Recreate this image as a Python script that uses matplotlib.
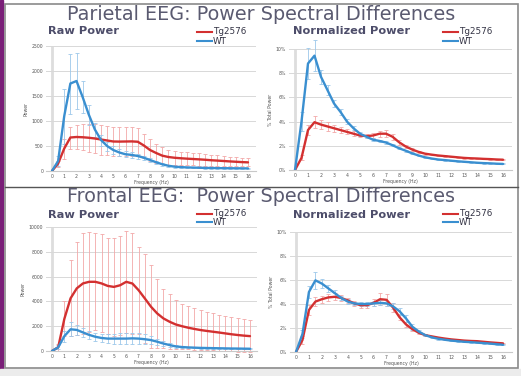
import numpy as np
import matplotlib
matplotlib.use("Agg")
import matplotlib.pyplot as plt
from matplotlib.patches import Rectangle
from matplotlib.lines import Line2D

plt.rcParams['font.family'] = ['DejaVu Sans']

W, H = 521, 376

freq = np.arange(0, 16.01, 0.5)
xtick_labels = [str(i) for i in range(17)]

# ---------------- Parietal raw power ----------------
par_raw_tg = [0, 150, 450, 670, 680, 675, 665, 650, 630, 610, 590, 588, 590, 592, 585, 510,
              420, 360, 307, 280, 265, 255, 247, 240, 233, 225, 215, 208, 200, 192, 185, 178, 173]
par_raw_tg_err = [0, 60, 200, 220, 240, 260, 285, 290, 300, 295, 295, 295, 290, 285, 270, 240,
                  215, 190, 175, 150, 140, 135, 130, 127, 125, 118, 112, 105, 100, 95, 90, 85, 80]
par_raw_wt = [0, 200, 1100, 1750, 1800, 1480, 1130, 830, 620, 500, 420, 370, 335, 322, 300, 265,
              220, 175, 135, 105, 87, 78, 72, 68, 65, 62, 60, 58, 56, 55, 54, 53, 52]
par_raw_wt_err = [0, 100, 550, 600, 560, 320, 200, 140, 110, 90, 75, 65, 60, 55, 50, 45,
                  40, 35, 30, 25, 20, 18, 16, 15, 14, 13, 12, 12, 11, 11, 10, 10, 10]

# ---------------- Parietal normalized power (%) ----------------
par_norm_tg = [0, 1.0, 3.3, 3.95, 3.75, 3.6, 3.45, 3.3, 3.15, 3.0, 2.85, 2.8, 2.85, 3.0, 3.0, 2.75,
               2.3, 1.95, 1.7, 1.5, 1.35, 1.27, 1.2, 1.15, 1.1, 1.05, 1.0, 0.97, 0.95, 0.92, 0.9, 0.87, 0.85]
par_norm_tg_err = [0, 0.2, 0.4, 0.5, 0.4, 0.35, 0.3, 0.25, 0.2, 0.2, 0.15, 0.15, 0.2, 0.25, 0.3, 0.25,
                   0.2, 0.15, 0.1, 0.1, 0.08, 0.07, 0.06, 0.05, 0.05, 0.05, 0.05, 0.05, 0.05, 0.05, 0.05, 0.05, 0.05]
par_norm_wt = [0, 4.0, 8.8, 9.45, 7.7, 6.6, 5.5, 4.8, 4.0, 3.45, 3.0, 2.75, 2.5, 2.4, 2.27, 2.05,
               1.8, 1.6, 1.38, 1.2, 1.05, 0.95, 0.87, 0.82, 0.77, 0.72, 0.68, 0.64, 0.6, 0.57, 0.55, 0.52, 0.5]
par_norm_wt_err = [0, 0.8, 1.3, 1.3, 0.6, 0.4, 0.3, 0.25, 0.2, 0.15, 0.15, 0.12, 0.12, 0.12, 0.12, 0.1,
                   0.1, 0.08, 0.07, 0.06, 0.05, 0.05, 0.04, 0.04, 0.04, 0.04, 0.04, 0.04, 0.04, 0.04, 0.04, 0.04, 0.04]

# ---------------- Frontal raw power ----------------
fro_raw_tg = [0, 300, 2600, 4250, 5050, 5450, 5580, 5580, 5450, 5250, 5170, 5300, 5580, 5440, 4900, 4240,
              3570, 3030, 2630, 2360, 2140, 2000, 1880, 1780, 1690, 1620, 1555, 1490, 1420, 1350, 1290, 1240, 1200]
fro_raw_tg_err = [0, 300, 1400, 3050, 3750, 4050, 4020, 3900, 3950, 3850, 3930, 4000, 4120, 4060, 3500, 3610,
                  3330, 2810, 2410, 2200, 1990, 1830, 1720, 1670, 1610, 1550, 1470, 1450, 1400, 1380, 1340, 1320, 1300]
fro_raw_wt = [0, 300, 1200, 1750, 1700, 1500, 1300, 1150, 1050, 1000, 1000, 1000, 1000, 1020, 1000, 950,
              880, 750, 600, 480, 370, 320, 290, 270, 250, 240, 230, 220, 210, 200, 195, 188, 180]
fro_raw_wt_err = [0, 150, 450, 550, 400, 350, 320, 330, 350, 380, 400, 420, 430, 450, 450, 400,
                  330, 250, 180, 130, 100, 80, 70, 65, 60, 55, 50, 50, 45, 45, 40, 40, 40]

# ---------------- Frontal normalized power (%) ----------------
fro_norm_tg = [0, 1.0, 3.5, 4.2, 4.4, 4.55, 4.6, 4.5, 4.3, 4.05, 3.9, 3.9, 4.1, 4.4, 4.35, 3.7,
               2.9, 2.3, 1.9, 1.6, 1.4, 1.3, 1.2, 1.12, 1.05, 1.0, 0.95, 0.92, 0.9, 0.85, 0.8, 0.76, 0.72]
fro_norm_tg_err = [0, 0.3, 0.4, 0.35, 0.3, 0.3, 0.3, 0.25, 0.2, 0.2, 0.2, 0.2, 0.3, 0.5, 0.5, 0.35,
                   0.25, 0.2, 0.15, 0.1, 0.08, 0.07, 0.06, 0.05, 0.05, 0.05, 0.05, 0.05, 0.05, 0.05, 0.05, 0.05, 0.05]
fro_norm_wt = [0, 1.5, 5.0, 5.97, 5.7, 5.3, 4.9, 4.5, 4.2, 4.05, 4.0, 4.0, 4.05, 4.1, 4.05, 3.8,
               3.4, 2.8, 2.1, 1.7, 1.4, 1.22, 1.1, 1.02, 0.95, 0.9, 0.85, 0.82, 0.78, 0.74, 0.7, 0.65, 0.6]
fro_norm_wt_err = [0, 0.3, 0.5, 0.7, 0.4, 0.3, 0.25, 0.2, 0.2, 0.15, 0.15, 0.15, 0.2, 0.2, 0.2, 0.25,
                   0.3, 0.3, 0.25, 0.15, 0.1, 0.08, 0.07, 0.06, 0.05, 0.05, 0.05, 0.05, 0.05, 0.05, 0.05, 0.05, 0.05]

titles = ["Parietal EEG: Power Spectral Differences", "Frontal EEG:  Power Spectral Differences"]
subtitles = ["Raw Power", "Normalized Power"]
legend_labels = ["Tg2576", "WT"]

RED = "#d33030"
BLUE = "#3a8fd0"
RED_ERR = "#f2a8a8"
BLUE_ERR = "#9cc8ea"
TXT = "#5a5a70"

fig = plt.figure(figsize=(W / 100, H / 100), dpi=100)
fig.patch.set_facecolor("white")


def fx(px):
    return px / W


def fy(py):
    return 1 - py / H


# frame decorations
fig.patches.append(Rectangle((0, 0), fx(3), 1, transform=fig.transFigure, color="#7a1f78", zorder=0))
fig.patches.append(Rectangle((0, 0), 1, fy(369), transform=fig.transFigure, color="#ececec", zorder=0))
fig.patches.append(Rectangle((fx(5), fy(368)), fx(513), fy(4) - fy(368), transform=fig.transFigure,
                             fill=False, edgecolor="#8a8a8a", lw=1.2, zorder=1))
fig.lines.append(Line2D([fx(5), fx(518)], [fy(187), fy(187)], transform=fig.transFigure,
                        color="#555555", lw=1.0))


def make_axes(x0px, x16px, left, right, y0px, ytoppx, ymax):
    scale = (x16px - x0px) / 16.0
    xmin = -(x0px - left) / scale
    xmax = 16 + (right - x16px) / scale
    ax = fig.add_axes([fx(left), fy(y0px), fx(right - left), fy(ytoppx) - fy(y0px)])
    ax.set_xlim(xmin, xmax)
    ax.set_ylim(0, ymax)
    return ax


def draw(ax, tg, tg_err, wt, wt_err, yticks, ylabels, ylab):
    ax.set_facecolor("none")
    for s in ["top", "right", "left"]:
        ax.spines[s].set_visible(False)
    ax.spines["bottom"].set_color("#c8c8c8")
    ax.spines["bottom"].set_linewidth(0.8)
    ax.axvline(0, color="#dddddd", lw=2.0, zorder=0)
    ax.set_yticks(yticks)
    ax.set_yticklabels(ylabels)
    ax.yaxis.grid(True, color="#d8d8d8", lw=0.7)
    ax.set_axisbelow(True)
    ax.set_xticks(range(17))
    ax.set_xticklabels(xtick_labels)
    ax.tick_params(axis="both", length=0, labelsize=3.3, colors="#555555", pad=2)
    ax.errorbar(freq, tg, yerr=tg_err, fmt="none", ecolor=RED_ERR, elinewidth=0.6,
                capsize=1.5, capthick=0.6, clip_on=False, zorder=2)
    ax.errorbar(freq, wt, yerr=wt_err, fmt="none", ecolor=BLUE_ERR, elinewidth=0.6,
                capsize=1.5, capthick=0.6, clip_on=False, zorder=2)
    ax.plot(freq, tg, color=RED, lw=1.7, zorder=3, solid_capstyle="round")
    ax.plot(freq, wt, color=BLUE, lw=1.7, zorder=4, solid_capstyle="round")
    ax.set_xlabel("Frequency (Hz)", fontsize=3.3, color="#555555", labelpad=1)
    ax.set_ylabel(ylab, fontsize=3.3, color="#555555", labelpad=2)


raw_top = make_axes(52, 248, 46, 256, 171, 46, 2500)
draw(raw_top, par_raw_tg, par_raw_tg_err, par_raw_wt, par_raw_wt_err,
     [0, 500, 1000, 1500, 2000, 2500], ["0", "500", "1000", "1500", "2000", "2500"], "Power")

norm_top = make_axes(295, 503, 289, 512, 170, 49, 10)
draw(norm_top, par_norm_tg, par_norm_tg_err, par_norm_wt, par_norm_wt_err,
     [0, 2, 4, 6, 8, 10], ["0%", "2%", "4%", "6%", "8%", "10%"], "% Total Power")

raw_bot = make_axes(52, 250, 46, 257, 351, 227, 10000)
draw(raw_bot, fro_raw_tg, fro_raw_tg_err, fro_raw_wt, fro_raw_wt_err,
     [0, 2000, 4000, 6000, 8000, 10000], ["0", "2000", "4000", "6000", "8000", "10000"], "Power")

norm_bot = make_axes(296, 503, 290, 512, 352, 232, 10)
draw(norm_bot, fro_norm_tg, fro_norm_tg_err, fro_norm_wt, fro_norm_wt_err,
     [0, 2, 4, 6, 8, 10], ["0%", "2%", "4%", "6%", "8%", "10%"], "% Total Power")

# titles
fig.text(fx(261), fy(15), titles[0], fontsize=13.8, color=TXT, ha="center", va="center")
fig.text(fx(261), fy(197), titles[1], fontsize=13.8, color=TXT, ha="center", va="center")

for (sx, sy, label) in [(48, 31.5, subtitles[0]), (293, 31.5, subtitles[1]),
                        (48, 214.5, subtitles[0]), (293, 214.5, subtitles[1])]:
    fig.text(fx(sx), fy(sy), label, fontsize=8.2, fontweight="bold", color="#4d4d6a",
             ha="left", va="center")

for (lx, ly1, ly2) in [(197, 32, 41), (443, 32, 41), (197, 214, 222), (443, 214, 222)]:
    fig.lines.append(Line2D([fx(lx), fx(lx + 15)], [fy(ly1), fy(ly1)], transform=fig.transFigure,
                            color=RED, lw=1.5))
    fig.lines.append(Line2D([fx(lx), fx(lx + 15)], [fy(ly2), fy(ly2)], transform=fig.transFigure,
                            color=BLUE, lw=1.5))
    fig.text(fx(lx + 16), fy(ly1), legend_labels[0], fontsize=6.3, color="#333344", va="center")
    fig.text(fx(lx + 16), fy(ly2), legend_labels[1], fontsize=6.3, color="#333344", va="center")

fig.savefig("out.png", dpi=100)
